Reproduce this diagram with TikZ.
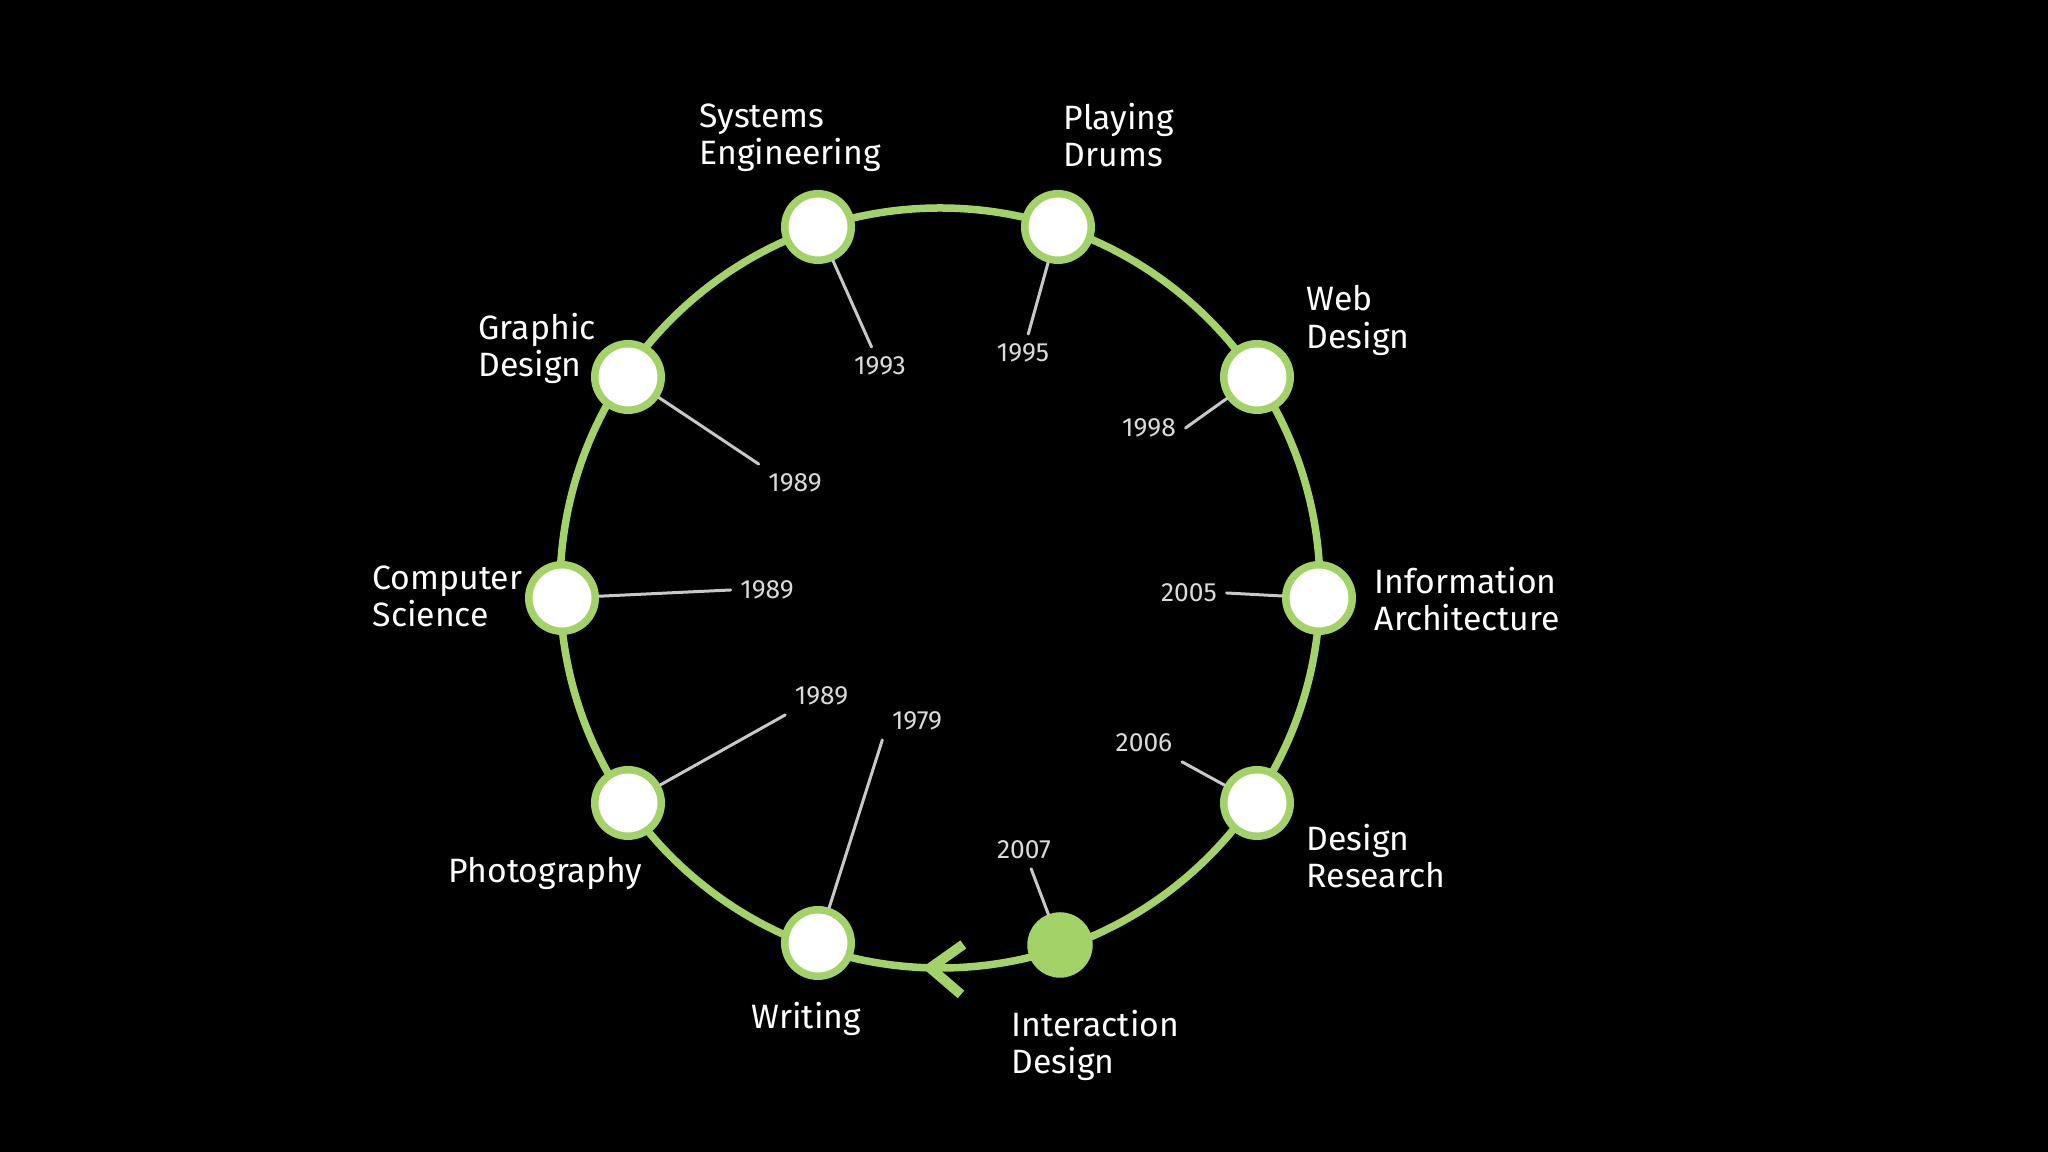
\documentclass[tikz,border=0pt]{standalone}
\usepackage{fontspec}
\setmainfont{Fira Sans}
\usetikzlibrary{arrows.meta,decorations.markings}
\definecolor{leaf}{RGB}{163,211,104}
\definecolor{tick}{RGB}{200,200,200}
\definecolor{datefg}{RGB}{218,218,218}
\begin{document}
\begin{tikzpicture}[line cap=round, line join=round]
\tikzset{
    ring/.style={draw=leaf, line width=0.075cm},
    station/.style={circle, draw=leaf, fill=white, line width=0.075cm, minimum size=0.665cm, inner sep=0pt},
    nowstation/.style={circle, draw=leaf, fill=leaf, line width=0.075cm, minimum size=0.58cm, inner sep=0pt},
    leader/.style={draw=tick, line width=0.03cm},
    field/.style={text=white, align=left, inner sep=0pt, anchor=north west, font=\fontsize{9.6}{10.6}\selectfont},
    year/.style={text=datefg, inner sep=0.09cm, font=\fontsize{7.5}{8.5}\selectfont}
}
\fill[black, use as bounding box] (0,0) rectangle (20.48,11.52);
\coordinate (hub) at (9.40,5.64);
\draw[ring, postaction={decorate}, decoration={markings,
    mark=at position 0.7425 with {\arrowreversed{Straight Barb[length=0.32cm, width=0.5cm, line width=0.1cm, sharp, color=leaf]}}}]
    (hub) circle (3.80);
\node[station] (sysEng) at (8.18,9.25) {};
\node[station] (drums) at (10.58,9.25) {};
\node[station] (webDes) at (12.57,7.75) {};
\node[station] (infoArch) at (13.19,5.54) {};
\node[station] (desRes) at (12.57,3.49) {};
\node[nowstation] (interDes) at (10.60,2.07) {};
\node[station] (writing) at (8.18,2.09) {};
\node[station] (photo) at (6.28,3.49) {};
\node[station] (compSci) at (5.62,5.54) {};
\node[station] (graphDes) at (6.28,7.75) {};
\node[field] (sysEngText) at (6.99,10.49) {Systems\\Engineering};
\node[field] (drumsText) at (10.63,10.50) {Playing\\Drums};
\node[field] (webDesText) at (13.06,8.67) {Web\\Design};
\node[field] (infoArchText) at (13.74,5.86) {Information\\Architecture};
\node[field] (desResText) at (13.06,3.29) {Design\\Research};
\node[field] (interDesText) at (10.11,1.43) {Interaction\\Design};
\node[field] (writingText) at (7.51,1.51) {Writing};
\node[field] (photoText) at (4.48,2.95) {Photography};
\node[field] (compSciText) at (3.72,5.87) {Computer\\Science};
\node[field] (graphDesText) at (4.78,8.40) {Graphic\\Design};
\node[year] (sysEngYear) at (8.80,7.86) {1993};
\node[year] (drumsYear) at (10.23,7.99) {1995};
\node[year] (webDesYear) at (11.49,7.24) {1998};
\node[year] (infoArchYear) at (11.89,5.59) {2005};
\node[year] (desResYear) at (11.44,4.09) {2006};
\node[year] (interDesYear) at (10.24,3.02) {2007};
\node[year] (writingYear) at (9.17,4.31) {1979};
\node[year] (photoYear) at (8.215,4.56) {1989};
\node[year] (compSciYear) at (7.67,5.62) {1989};
\node[year] (graphDesYear) at (7.95,6.69) {1989};
\draw[leader] (sysEng) -- (sysEngYear);
\draw[leader] (drums) -- (drumsYear);
\draw[leader] (webDes) -- (webDesYear.east);
\draw[leader] (infoArch) -- (infoArchYear.east);
\draw[leader] (desRes) -- (desResYear.south east);
\draw[leader] (interDes) -- (interDesYear);
\draw[leader] (writing) -- (writingYear.south west);
\draw[leader] (photo) -- (photoYear.south west);
\draw[leader] (compSci) -- (compSciYear.west);
\draw[leader] (graphDes) -- (graphDesYear.north west);
\end{tikzpicture}
\end{document}
